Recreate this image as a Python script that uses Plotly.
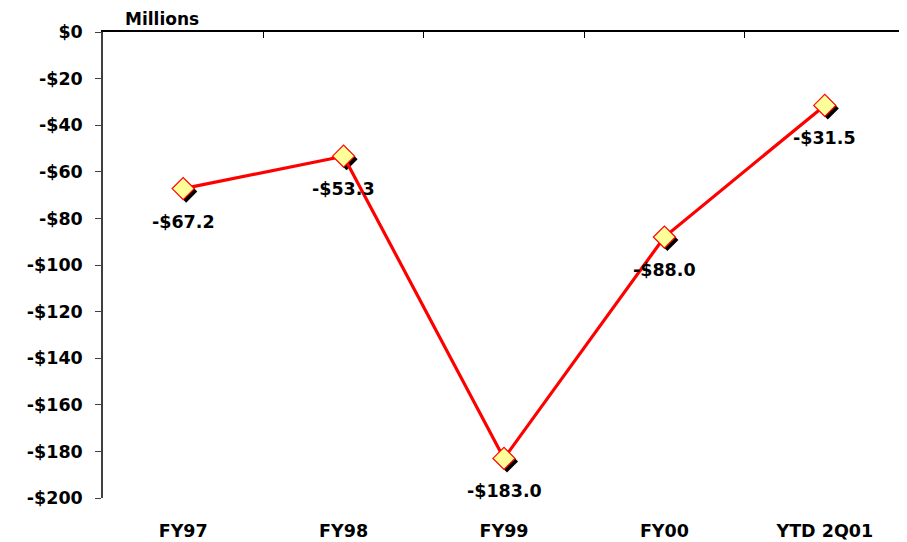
import plotly.graph_objects as go

categories = ["FY97", "FY98", "FY99", "FY00", "YTD 2Q01"]
values = [-67.2, -53.3, -183.0, -88.0, -31.5]
labels = ["-$67.2", "-$53.3", "-$183.0", "-$88.0", "-$31.5"]
y_ticks = [0, -20, -40, -60, -80, -100, -120, -140, -160, -180, -200]
y_ticktext = ["$0", "-$20", "-$40", "-$60", "-$80", "-$100", "-$120", "-$140", "-$160", "-$180", "-$200"]

# page body has an 8px margin, so the figure is made 16px smaller overall
W, H = 899, 534
ml, mr, mt, mb = 95, 2, 24, 44
pw, ph = W - ml - mr, H - mt - mb
xr = [-0.5, len(categories) - 0.5]
yr = [-200, 0]
# shadow offset of 3 px expressed through a shifted overlay axis
dx = 3 * (xr[1] - xr[0]) / pw
dy = 3 * (yr[1] - yr[0]) / ph

xs = list(range(len(categories)))
FONT = "DejaVu Sans"
FS = 17.5
bold = dict(family=FONT, size=FS, color="black", weight="bold")

fig = go.Figure()
# dummy traces so the tick-bearing axes are drawn
fig.add_trace(go.Scatter(x=[None], y=[None], showlegend=False, hoverinfo="skip"))
fig.add_trace(go.Scatter(x=[None], y=[None], xaxis="x2", showlegend=False, hoverinfo="skip"))
# shadow markers (drawn first)
fig.add_trace(go.Scatter(x=xs, y=values, mode="markers", xaxis="x3", yaxis="y3",
                         marker=dict(symbol="diamond", size=17, color="black"),
                         hoverinfo="skip", showlegend=False))
# main line + markers
fig.add_trace(go.Scatter(x=xs, y=values, mode="lines+markers", xaxis="x4", yaxis="y4",
                         line=dict(color="#FF0000", width=3.2),
                         marker=dict(symbol="diamond", size=17, color="#FFFF99",
                                     line=dict(color="#FF0000", width=1.2)),
                         showlegend=False))

for x, v, t in zip(xs, values, labels):
    fig.add_annotation(x=x, y=v, xref="x4", yref="y4", text=t, showarrow=False,
                       yshift=-33, font=bold)

fig.add_annotation(xref="paper", yref="paper", x=0.025, y=1.0, yshift=13,
                   xanchor="left", yanchor="middle", text="Millions", showarrow=False,
                   font=dict(family=FONT, size=17, color="black", weight="bold"))

fig.update_layout(
    width=W, height=H,
    margin=dict(l=ml, r=mr, t=mt, b=mb),
    paper_bgcolor="white", plot_bgcolor="white",
    font=dict(family=FONT, size=FS, color="black"),
    xaxis=dict(range=xr, tickvals=xs, ticktext=categories, showline=False,
               showgrid=False, zeroline=False, ticks="", ticklabelstandoff=20,
               automargin=False, tickfont=bold),
    xaxis2=dict(range=xr, overlaying="x", side="top", showline=True, linecolor="black",
                linewidth=1.5, ticks="inside", ticklen=6, tickcolor="black",
                tickvals=[0.5, 1.5, 2.5, 3.5, 4.5], showticklabels=False, showgrid=False,
                zeroline=False, automargin=False),
    yaxis=dict(range=yr, tickvals=y_ticks, ticktext=y_ticktext, showline=True,
               linecolor="#404040", linewidth=1.5, ticks="outside", ticklen=6,
               tickcolor="#404040", showgrid=False, zeroline=False,
               ticklabelstandoff=9, automargin=False, tickfont=bold),
    xaxis3=dict(range=[xr[0] - dx, xr[1] - dx], overlaying="x", visible=False, automargin=False),
    yaxis3=dict(range=[yr[0] + dy, yr[1] + dy], overlaying="y", visible=False, automargin=False),
    xaxis4=dict(range=xr, overlaying="x", visible=False, automargin=False),
    yaxis4=dict(range=yr, overlaying="y", visible=False, automargin=False),
)

fig.write_html("out.html")
